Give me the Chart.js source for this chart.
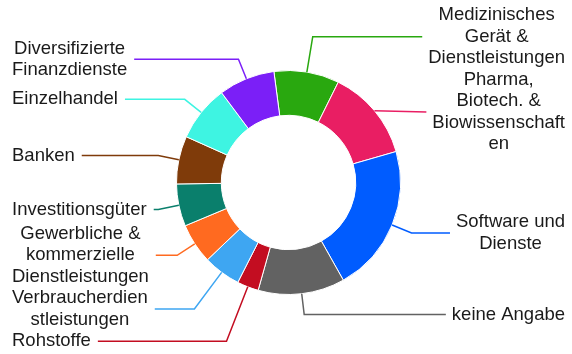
<!DOCTYPE html>
<html lang="de">
<head>
<meta charset="UTF-8">
<title>Branchenverteilung</title>
<script src="https://cdn.jsdelivr.net/npm/chart.js"></script>
<style>
  html, body { margin: 0; padding: 0; background: #fff; }
  canvas { display: block; }
</style>
</head>
<body>
<canvas id="sektorChart" width="572" height="354"></canvas>
<script>
// Anteile je Branche (Prozent), im Uhrzeigersinn ab dem grünen Segment
const branchen = [
  'Medizinisches Gerät & Dienstleistungen',
  'Pharma, Biotech. & Biowissenschaften',
  'Software und Dienste',
  'keine Angabe',
  'Rohstoffe',
  'Verbraucherdienstleistungen',
  'Gewerbliche & kommerzielle Dienstleistungen',
  'Investitionsgüter',
  'Banken',
  'Einzelhandel',
  'Diversifizierte Finanzdienste'
];
const anteile = [9.4, 13.2, 21.3, 12.5, 3.1, 5.4, 5.8, 6.1, 6.9, 8.1, 8.1];
const farben = [
  '#29a80f', '#e91e63', '#005cff', '#626262', '#c30d21', '#3ea6f2',
  '#ff6a20', '#0a7f6c', '#7f3b0a', '#3ef4e2', '#7b1ff7'
];

const FONT = '18.5px "Liberation Sans", Arial, sans-serif';
const LINE_H = 21.5;
const MAX_W = 139;     // Umbruchbreite der Beschriftung
const LEN1 = 21;       // erstes Stück der Führungslinie
const EDGE_L = 12, EDGE_R = 7;

// Text umbrechen, zu lange Wörter zeichenweise trennen
function wrapLabel(ctx, text, maxW) {
  const out = [];
  let line = '';
  for (const word of text.split(' ')) {
    const test = line ? line + ' ' + word : word;
    if (ctx.measureText(test).width <= maxW) { line = test; continue; }
    if (line) out.push(line);
    let piece = '';
    for (const ch of word) {
      if (piece && ctx.measureText(piece + ch).width > maxW) { out.push(piece); piece = ''; }
      piece += ch;
    }
    line = piece;
  }
  if (line) out.push(line);
  return out;
}

// Beschriftungen einer Seite so verschieben, dass sie sich nicht überlappen
function spread(list, top, bottom, centerY) {
  list.sort((a, b) => a.y - b.y);
  let last = top;
  list.forEach(it => {
    it.y0 = it.y;
    if (it.y - it.h / 2 < last) it.y = last + it.h / 2;
    last = it.y + it.h / 2;
  });
  // Gruppen in der oberen Hälfte wieder etwas nach oben ziehen
  let prevBottom = top;
  let k = 0;
  while (k < list.length) {
    let j = k;
    while (j + 1 < list.length && list[j + 1].y - list[j + 1].h / 2 <= list[j].y + list[j].h / 2 + 0.01) j++;
    const group = list.slice(k, j + 1);
    if (group[0].y0 < centerY) {
      const mean = group.reduce((s, it) => s + it.y - it.y0, 0) / group.length;
      const room = group[0].y - group[0].h / 2 - prevBottom;
      const up = Math.max(0, Math.min(mean, room));
      group.forEach(it => { it.y -= up; });
    }
    const lastIt = group[group.length - 1];
    prevBottom = lastIt.y + lastIt.h / 2;
    k = j + 1;
  }
  let next = bottom;
  for (let n = list.length - 1; n >= 0; n--) {
    const it = list[n];
    if (it.y + it.h / 2 > next) it.y = next - it.h / 2;
    next = it.y - it.h / 2;
  }
}

const outLabels = {
  id: 'outLabels',
  afterDatasetsDraw(chart) {
    const ctx = chart.ctx;
    const meta = chart.getDatasetMeta(0);
    ctx.save();
    ctx.font = FONT;

    const items = meta.data.map((arc, i) => {
      const p = arc.getProps(['x', 'y', 'startAngle', 'endAngle', 'outerRadius'], true);
      const a = (p.startAngle + p.endAngle) / 2;
      const lines = wrapLabel(ctx, branchen[i], MAX_W);
      const w = Math.max(...lines.map(l => ctx.measureText(l).width));
      return {
        i, a, cx: p.x, cy: p.y, r: p.outerRadius, lines, w,
        h: lines.length * LINE_H,
        right: Math.cos(a) >= 0,
        y: p.y + Math.sin(a) * (p.outerRadius + LEN1)
      };
    });

    const cy = items[0].cy;
    spread(items.filter(it => it.right), 0, chart.height, cy);
    spread(items.filter(it => !it.right), 0, chart.height, cy);

    items.forEach(it => {
      const cos = Math.cos(it.a), sin = Math.sin(it.a);
      const x0 = it.cx + it.r * cos, y0 = it.cy + it.r * sin;
      const left = it.right ? chart.width - EDGE_R - it.w : EDGE_L;
      const endX = it.right ? left - 6 : left + it.w + 7;

      // Knickpunkt auf dem Radialstrahl in Höhe der Beschriftung
      let ex = x0, ey = y0;
      if (Math.abs(sin) > 0.05) {
        const re = (it.y - it.cy) / sin;
        if (re >= it.r + 2) { ex = it.cx + re * cos; ey = it.y; }
      }
      if (it.right ? ex > endX : ex < endX) { ex = x0; ey = y0; }

      ctx.strokeStyle = farben[it.i];
      ctx.lineWidth = 1.5;
      ctx.beginPath();
      ctx.moveTo(x0, y0);
      ctx.lineTo(ex, ey);
      ctx.lineTo(endX, it.y);
      ctx.stroke();

      ctx.fillStyle = '#1a1a1a';
      ctx.textAlign = 'center';
      ctx.textBaseline = 'middle';
      const top = it.y - it.h / 2;
      it.lines.forEach((l, n) => {
        ctx.fillText(l, left + it.w / 2, top + LINE_H * (n + 0.5));
      });
    });
    ctx.restore();
  }
};

new Chart(document.getElementById('sektorChart'), {
  type: 'doughnut',
  data: {
    labels: branchen,
    datasets: [{
      data: anteile,
      backgroundColor: farben,
      borderColor: '#ffffff',
      borderWidth: 1
    }]
  },
  options: {
    responsive: false,
    animation: false,
    rotation: -7.5,
    radius: 112,
    cutout: '60%',
    layout: { padding: { left: 130, right: 125, top: 71, bottom: 60 } },
    plugins: {
      legend: { display: false },
      tooltip: { enabled: false }
    }
  },
  plugins: [outLabels]
});
</script>
</body>
</html>
